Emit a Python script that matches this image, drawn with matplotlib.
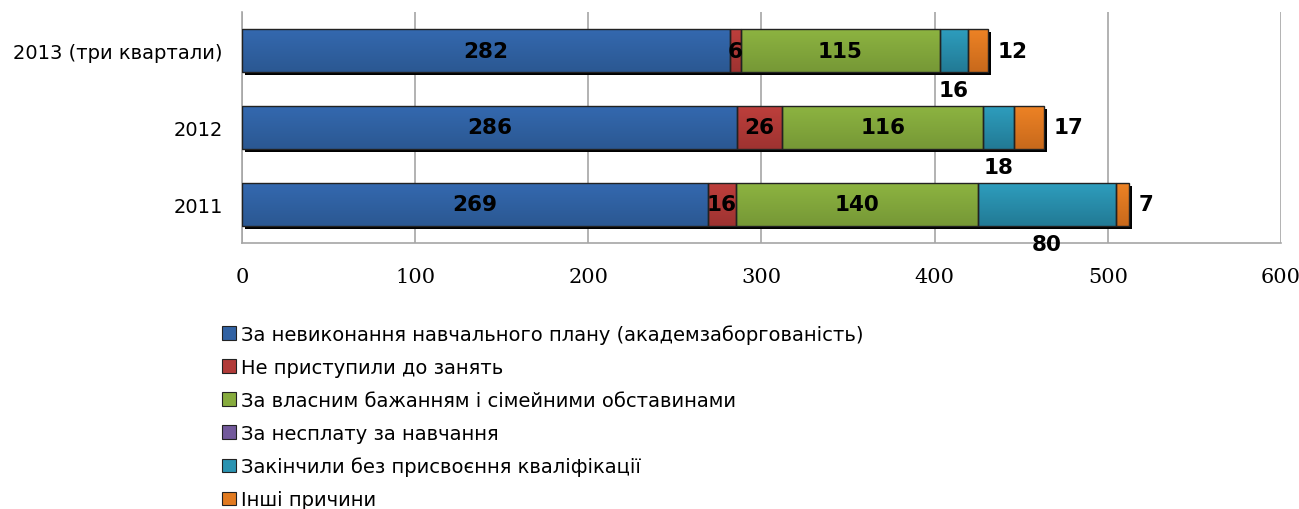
import matplotlib
matplotlib.use("Agg")
import numpy as np
import matplotlib.pyplot as plt
import matplotlib.patheffects as pe
from matplotlib.colors import LinearSegmentedColormap
from matplotlib.patches import Rectangle

# Дані
years = ["2011", "2012", "2013 (три квартали)"]
academ = [269, 286, 282]
not_started = [16, 26, 6]
own_wish = [140, 116, 115]
no_payment = [0, 0, 0]
no_qualif = [80, 18, 16]
other = [7, 17, 12]

series_names = [
    "За невиконання навчального плану (академзаборгованість)",
    "Не приступили до занять",
    "За власним бажанням і сімейними обставинами",
    "За несплату за навчання",
    "Закінчили без присвоєння кваліфікації",
    "Інші причини",
]
series_colors = ["#3162A3", "#B13B39", "#86AB3D", "#72599B", "#2A93B1", "#E17A20"]
# градієнт: верх -> низ
grad_top = ["#3469B0", "#BE3F3C", "#8DB441", "#7B61A6", "#2E9EBE", "#EE8325"]
grad_bot = ["#2B5892", "#9E3331", "#769836", "#634D88", "#227A95", "#C8691C"]
series_values = [academ, not_started, own_wish, no_payment, no_qualif, other]

fig = plt.figure(figsize=(12.99, 5.10), dpi=100)
ax = fig.add_axes([0.1863, 0.5216, 0.7998, 0.4529])

y = np.arange(len(years))
left = np.zeros(len(years))
shadow = [pe.SimplePatchShadow(offset=(2.2, -2.4), shadow_rgbFace="black", alpha=1.0), pe.Normal()]
grad = np.linspace(0, 1, 64).reshape(-1, 1)
containers = []
for vals, col, top, bot, name in zip(series_values, series_colors, grad_top, grad_bot, series_names):
    bars = ax.barh(y, vals, left=left, height=0.56, color=col, edgecolor="none",
                   linewidth=0, label=name, zorder=3)
    cmap = LinearSegmentedColormap.from_list("g", [top, bot])
    for b in bars:
        if b.get_width() <= 0:
            continue
        b.set_path_effects(shadow)
        x0, y0, w, h = b.get_x(), b.get_y(), b.get_width(), b.get_height()
        im = ax.imshow(grad, cmap=cmap, extent=(x0, x0 + w, y0, y0 + h), origin="upper",
                       aspect="auto", zorder=3.1, interpolation="bilinear")
        im.set_clip_path(b)
        ax.add_patch(Rectangle((x0, y0), w, h, fill=False, edgecolor="#222222",
                               linewidth=1.0, zorder=3.2))
    containers.append(bars)
    left = left + np.array(vals)

lab_font = dict(fontsize=15.5, fontweight="bold", family="DejaVu Sans", color="black")

# підписи всередині
for c in containers[:3]:
    ax.bar_label(c, label_type="center", zorder=5, **lab_font)

# підписи під смугою (кваліфікація)
for b, v in zip(containers[4], no_qualif):
    cx = b.get_x() + b.get_width() / 2
    ax.annotate(str(v), xy=(cx, b.get_y()), xytext=(0, -13), textcoords="offset points",
                ha="center", va="center", zorder=6, **lab_font)

# інші причини - праворуч
ax.bar_label(containers[5], labels=[str(v) for v in other], label_type="edge",
             padding=7, zorder=5, **lab_font)

ax.set_xlim(0, 600)
ax.set_ylim(-0.5, 2.5)
ax.set_xticks(range(0, 601, 100))
ax.set_yticks(y)
ax.set_yticklabels(years, fontsize=14, family="DejaVu Sans")
for t in ax.get_xticklabels():
    t.set_family("DejaVu Serif")
    t.set_fontsize(15)
ax.tick_params(axis="both", length=0)
ax.tick_params(axis="x", pad=17)
ax.tick_params(axis="y", pad=14)

ax.grid(axis="x", color="#A6A6A6", linewidth=1.2, zorder=0)
ax.set_axisbelow(True)
for s in ["top", "right"]:
    ax.spines[s].set_visible(False)
for s in ["left", "bottom"]:
    ax.spines[s].set_color("#A6A6A6")
    ax.spines[s].set_linewidth(1.2)

leg = fig.legend(handles=containers, labels=series_names, loc="upper left",
                 bbox_to_anchor=(0.165, 0.378), frameon=False,
                 prop={"family": "DejaVu Sans", "size": 14},
                 handlelength=0.7, handleheight=0.7, handletextpad=0.25,
                 labelspacing=0.72, borderaxespad=0)
for h in leg.legend_handles:
    h.set_path_effects([])
    h.set_edgecolor("#222222")
    h.set_linewidth(0.8)

fig.savefig("out.png", dpi=100)
